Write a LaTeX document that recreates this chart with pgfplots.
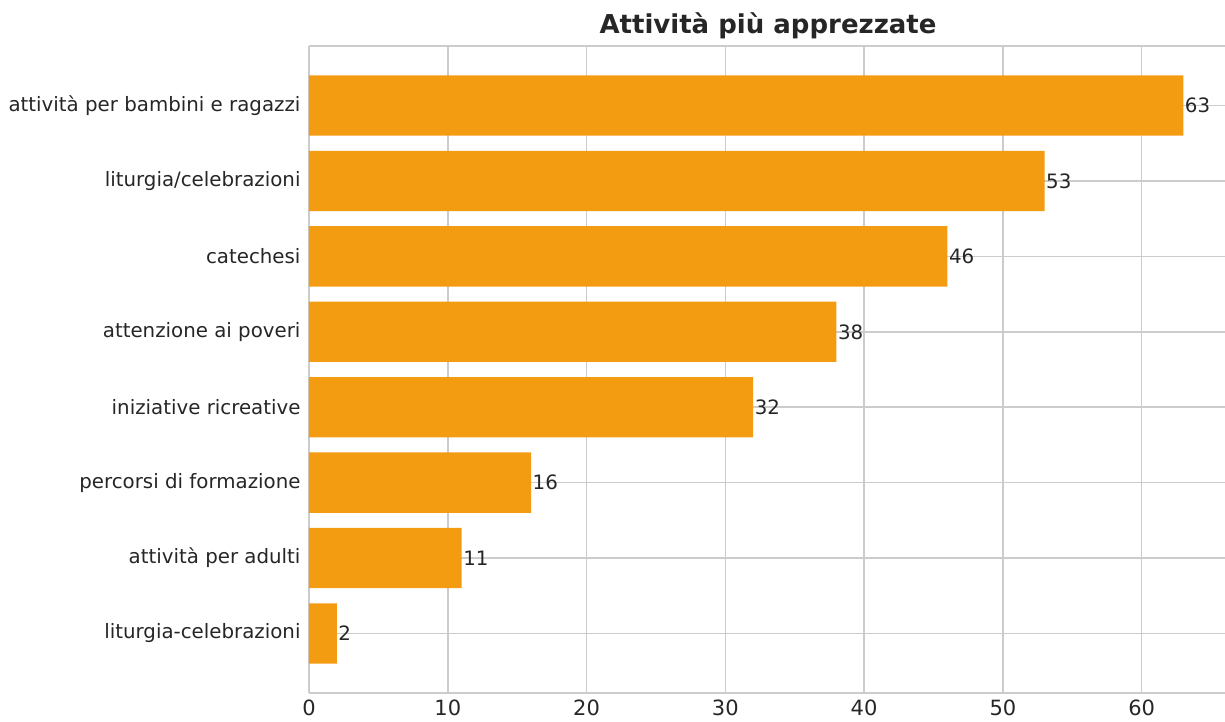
\documentclass[border=0pt]{standalone}
\usepackage{pgfplots}
\pgfplotsset{compat=1.18}
\usepackage{fontspec}
\setmainfont{DejaVu Sans}

\definecolor{barorange}{RGB}{243,156,18}
\definecolor{gridgray}{RGB}{204,204,204}
\definecolor{textgray}{RGB}{38,38,38}

\begin{document}
\begin{tikzpicture}
\begin{axis}[
  at={(0,0)}, anchor=south west,
  scale only axis,
  width=918pt, height=647pt,
  xmin=0, xmax=66.15,
  ymin=-0.79, ymax=7.79,
  y dir=reverse,
  axis x line*=box, axis y line*=left,
  axis line style={gridgray, line width=1.6pt},
  xmajorgrids, ymajorgrids,
  grid style={gridgray, line width=1.5pt},
  xtick={0,10,20,30,40,50,60},
  ytick={0,1,2,3,4,5,6,7},
  yticklabels={attività per bambini e ragazzi,liturgia/celebrazioni,catechesi,attenzione ai poveri,iniziative ricreative,percorsi di formazione,attività per adulti,liturgia-celebrazioni},
  major tick length=0pt,
  tick style={draw=none},
  /pgf/number format/assume math mode=true,
  xticklabel style={font=\fontsize{21}{24}\selectfont, text=textgray, yshift=-3pt},
  yticklabel style={font=\fontsize{19.8}{22}\selectfont, text=textgray, xshift=-5pt},
  title={\textbf{Attività più apprezzate}},
  title style={font=\fontsize{26}{30}\selectfont, text=textgray, yshift=-2pt},
  nodes near coords,
  nodes near coords style={font=\fontsize{19.8}{22}\selectfont, text=textgray, anchor=west, inner sep=1.5pt},
  point meta=explicit symbolic,
]
\addplot[xbar, bar width=0.8, fill=barorange, draw=none]
table[meta=label] {
x y label
63 0 63
53 1 53
46 2 46
38 3 38
32 4 32
16 5 16
11 6 11
2 7 2
};
\end{axis}
\pgfresetboundingbox
\path (-309pt,-28pt) rectangle (916pt,693pt);
\end{tikzpicture}
\end{document}
